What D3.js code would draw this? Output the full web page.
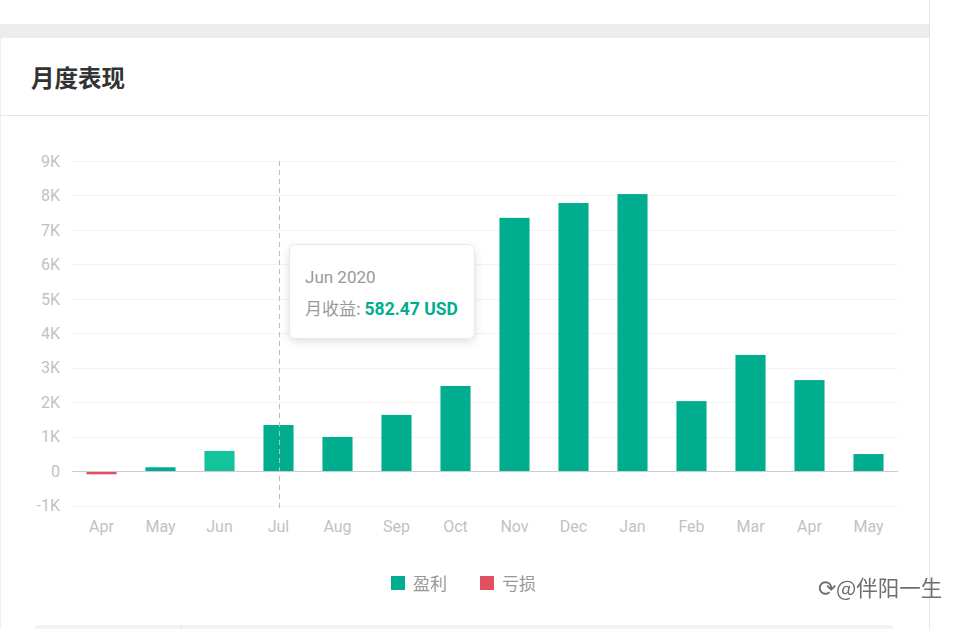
<!DOCTYPE html>
<html><head><meta charset="utf-8">
<script src="https://cdn.jsdelivr.net/npm/d3@7"></script>
<style>
body{margin:0;background:#fff;}
svg{display:block;}
</style></head>
<body>
<svg id="c" width="962" height="629"></svg>
<script>
const months = ["Apr","May","Jun","Jul","Aug","Sep","Oct","Nov","Dec","Jan","Feb","Mar","Apr","May"];
const values = [-95, 110, 582.47, 1336, 990, 1630, 2470, 7350, 7780, 8040, 2030, 3370, 2640, 494];
const yTicks = [-1000,0,1000,2000,3000,4000,5000,6000,7000,8000,9000];
const yTickLabels = ["-1K","0","1K","2K","3K","4K","5K","6K","7K","8K","9K"];
const legendLabels = ["盈利","亏损"];
const colors = {profit:"#00ae8f", loss:"#e0505f", hover:"#13c39c"};
const hoverIndex = 2;

const svg = d3.select("#c");
const cjk = "'Noto Sans CJK SC','Noto Sans',sans-serif";
const latin = "Roboto,'Noto Sans',sans-serif";

// card frame
svg.append("rect").attr("x",0).attr("y",24).attr("width",929).attr("height",14).attr("fill","#ececec");
svg.append("line").attr("x1",929.5).attr("x2",929.5).attr("y1",0).attr("y2",629).attr("stroke","#e4e4e4");
svg.append("line").attr("x1",0.5).attr("x2",0.5).attr("y1",38).attr("y2",629).attr("stroke","#eeeeee");
svg.append("line").attr("x1",0).attr("x2",929).attr("y1",115.5).attr("y2",115.5).attr("stroke","#e6e6e6");
svg.append("text").attr("x",31).attr("y",87).text("月度表现")
  .attr("font-family",cjk).attr("font-weight","bold").attr("font-size",23.5).attr("fill","#333");

// bottom band
svg.append("rect").attr("x",35).attr("y",625).attr("width",858).attr("height",4).attr("fill","#f2f3f5");
svg.append("line").attr("x1",181.5).attr("x2",181.5).attr("y1",625).attr("y2",629).attr("stroke","#e2e2e2");

const x = d3.scaleBand().domain(d3.range(months.length)).range([72,898]).paddingInner(0.49).paddingOuter(0.245);
const y = d3.scaleLinear().domain([-1000,9000]).range([505.5,161]);

// grid
svg.append("g").selectAll("line").data(yTicks.filter(d=>d!==0)).join("line")
  .attr("x1",72).attr("x2",898).attr("y1",d=>Math.round(y(d))+0.5).attr("y2",d=>Math.round(y(d))+0.5)
  .attr("stroke","#f3f3f3");

// y labels
svg.append("g").selectAll("text").data(yTicks).join("text")
  .attr("x",60).attr("y",d=>y(d)).attr("dy","0.36em").attr("text-anchor","end")
  .text((d,i)=>yTickLabels[i]).attr("font-family",latin).attr("font-size",16).attr("fill","#c2c2c2");

// bars
svg.append("g").selectAll("rect").data(values).join("rect")
  .attr("x",(d,i)=>x(i)).attr("width",x.bandwidth())
  .attr("y",d=>y(Math.max(0,d))).attr("height",d=>Math.abs(y(d)-y(0)))
  .attr("fill",(d,i)=>d<0?colors.loss:(i===hoverIndex?colors.hover:colors.profit));

// zero line
svg.append("line").attr("x1",72).attr("x2",898).attr("y1",Math.round(y(0))+0.5).attr("y2",Math.round(y(0))+0.5)
  .attr("stroke","#cccccc");

// crosshair
const cx = Math.round(x(3)+x.bandwidth()/2)+0.5;
svg.append("line").attr("x1",cx).attr("x2",cx).attr("y1",161).attr("y2",508)
  .attr("stroke","#bdbdbd").attr("stroke-dasharray","5,4");

// x labels
svg.append("g").selectAll("text").data(months).join("text")
  .attr("x",(d,i)=>x(i)+x.bandwidth()/2).attr("y",532).attr("text-anchor","middle")
  .text(d=>d).attr("font-family",latin).attr("font-size",16).attr("fill","#c2c2c2");

// legend
const lg = svg.append("g");
[[391,colors.profit,legendLabels[0]],[480,colors.loss,legendLabels[1]]].forEach(([lx,c,t])=>{
  lg.append("rect").attr("x",lx).attr("y",576).attr("width",14).attr("height",14).attr("fill",c);
  lg.append("text").attr("x",lx+22).attr("y",590).text(t).attr("font-family",cjk).attr("font-size",17).attr("fill","#999");
});

// tooltip
const defs = svg.append("defs");
const f = defs.append("filter").attr("id","sh").attr("x","-20%").attr("y","-20%").attr("width","140%").attr("height","150%");
f.append("feDropShadow").attr("dx",0).attr("dy",3).attr("stdDeviation",4).attr("flood-color","#000").attr("flood-opacity",0.12);
svg.append("rect").attr("x",289.5).attr("y",244.5).attr("width",185).attr("height",94).attr("rx",6)
  .attr("fill","#fff").attr("stroke","#e8e8e8").attr("filter","url(#sh)");
svg.append("text").attr("x",305).attr("y",283).text("Jun 2020")
  .attr("font-family",latin).attr("font-size",17).attr("fill","#999");
const t2 = svg.append("text").attr("x",305).attr("y",315).attr("font-size",17);
t2.append("tspan").text("月收益: ").attr("font-family",cjk).attr("fill","#999");
t2.append("tspan").text(d3.format(".2f")(values[hoverIndex])+" USD").attr("font-family",latin).attr("font-weight","bold").attr("font-size",17.5).attr("fill","#00ae8f");

// watermark
svg.append("text").attr("x",818).attr("y",596).text("⟳@伴阳一生")
  .attr("font-family",cjk).attr("font-size",21.5).attr("fill","#555").attr("opacity",0.85);
</script>
</body></html>
